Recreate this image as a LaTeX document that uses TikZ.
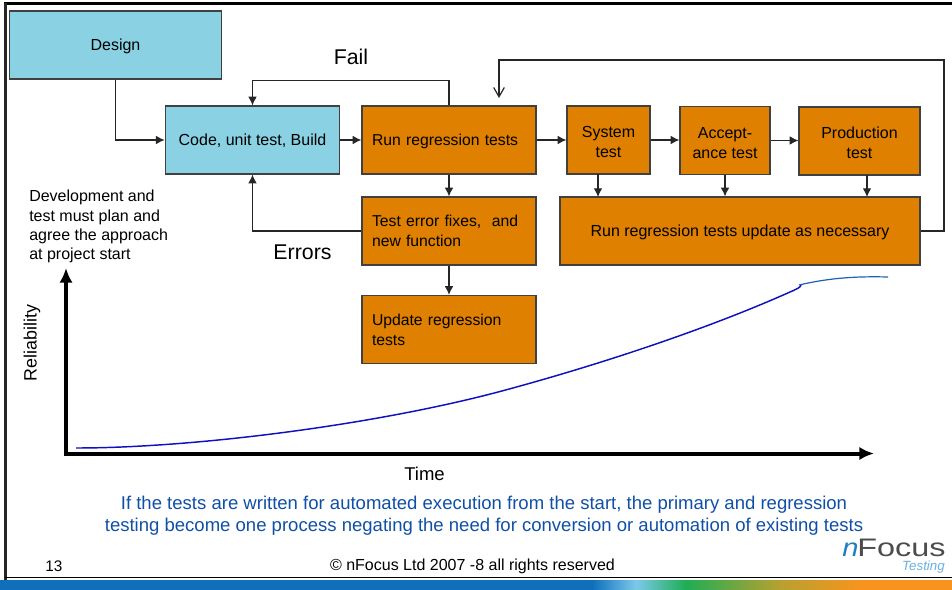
\documentclass[tikz,border=0pt]{standalone}
\usepackage{fontspec}
\setmainfont{Liberation Sans}
\usetikzlibrary{arrows.meta}
\definecolor{bluebox}{HTML}{89D1E3}
\definecolor{orangebox}{HTML}{DF8000}
\definecolor{bluetext}{HTML}{0F4FA8}
\definecolor{curveblue}{HTML}{1010C0}
\definecolor{penblue}{HTML}{2060B0}
\definecolor{barblue}{HTML}{0F6FBA}
\definecolor{barlight}{HTML}{7CC8EC}
\definecolor{bargreen}{HTML}{1FAE54}
\definecolor{barolive}{HTML}{B8A030}
\definecolor{barorange}{HTML}{F7941D}
\definecolor{logoblue}{HTML}{1F7FC0}
\definecolor{testingblue}{HTML}{6AB0E0}
\pgfdeclarehorizontalshading{barshade}{100bp}{color(0bp)=(barblue); color(56.1bp)=(barblue); color(58.4bp)=(barlight); color(61bp)=(bargreen); color(66bp)=(barolive); color(70.2bp)=(barorange); color(100bp)=(barorange)}
\tikzset{
	bluestep/.style={draw=black!75, line width=0.9pt, fill=bluebox, inner sep=0pt, align=center, minimum height=68*0.75pt, font=\fontsize{12}{15}\selectfont},
	orangestep/.style={draw=black!75, line width=0.9pt, fill=orangebox, inner sep=0pt, align=center, minimum height=68*0.75pt, font=\fontsize{12}{15}\selectfont},
	oneline/.style={text depth=0pt},
	twoline/.style={text height=26.5pt},
	leftstep/.style={orangestep, minimum width=174*0.75pt, text width=154*0.75pt, align=left, font=\fontsize{11.8}{15}\selectfont},
	flow/.style={draw=black!85, line width=0.9pt, -{Latex[length=6.5pt,width=6.5pt]}},
	axisline/.style={line width=3pt, line cap=rect, -{Latex[length=11pt,width=10pt]}},
	plain/.style={font=\fontsize{12}{14.5}\selectfont, align=left, inner sep=0pt},
	biglabel/.style={font=\fontsize{16}{18}\selectfont, inner sep=0pt},
	bluenote/.style={font=\fontsize{13.9}{16.5}\selectfont, text=bluetext, align=center, inner sep=0pt}
}
\begin{document}
\begin{tikzpicture}[x=0.75pt,y=-0.75pt]
	\useasboundingbox (0,0) rectangle (952,589);
	% page frame
	\draw[line width=2.2pt] (4,3.5) -- (952,3.5);
	\draw[line width=1.8pt, black!85] (5.5,3) -- (5.5,581);
	\draw[line width=0.9pt] (5,577.5) -- (952,577.5);
	\shade[shading=barshade] (0,580.5) rectangle (952,589);
	% boxes
	\node[bluestep, oneline, minimum width=212*0.75pt] (design) at (115.5,45) {Design};
	\node[bluestep, oneline, minimum width=174.5*0.75pt] (code) at (252.5,140) {Code, unit test, Build};
	\node[leftstep, oneline] (run) at (449,140) {Run regression tests};
	\node[orangestep, twoline, minimum width=83*0.75pt] (system) at (608.5,140) {System\\test};
	\node[orangestep, twoline, minimum width=90*0.75pt] (accept) at (725,140.5) {Accept-\\ance test};
	\node[orangestep, twoline, minimum width=121*0.75pt] (production) at (859.5,141) {Production\\test};
	\node[leftstep] (fixes) at (449,231) {Test error fixes,~ and new function};
	\node[leftstep] (update) at (449,329.5) {Update regression tests};
	\node[orangestep, oneline, minimum width=360*0.75pt] (runall) at (740,231) {Run regression tests update as necessary};
	% free ends
	\coordinate (retest) at (499,98);
	% flow
	\draw[flow] (design.south) |- (code.west);
	\draw[flow] (code) -- (run);
	\draw[flow] (run) -- (system);
	\draw[flow] (system) -- (system-|accept.west);
	\draw[flow] (accept) -- (accept-|production.west);
	\draw[flow] (run.north) -- ++(0,-25) -| (code.north);
	\draw[flow] (run) -- (fixes);
	\draw[flow] (fixes) -- (update);
	\draw[flow] (fixes.west) -| (code.south);
	\draw[flow] (598,174) -- (598,197);
	\draw[flow] (accept.south) -- (accept.south|-runall.north);
	\draw[flow] (867,175) -- (867,197);
	\draw[draw=black!85, line width=0.9pt, -{Straight Barb[length=7pt,width=8pt]}] (runall.east) -- (944,231) -- (944,60) -- (499,60) -- (retest);
	% labels
	\node[biglabel] (fail) at (351,57) {Fail};
	\node[biglabel] (errors) at (302.5,252) {Errors};
	\node[plain, anchor=north west] (plan) at (29,190) {Development and\\test must plan and\\agree the approach\\at project start};
	% chart
	\coordinate (origin) at (66,453.5);
	\draw[axisline] (origin) -- (66,268);
	\draw[axisline] (origin) -- (874,453.5);
	\node[plain, rotate=90, font=\fontsize{13.4}{14}\selectfont] (reliability) at (32,343) {Reliability};
	\node[plain, font=\fontsize{13.9}{14}\selectfont] (time) at (424.5,474) {Time};
	\draw[curveblue, line width=1.1pt] (76,448) .. controls (190,448) and (370,426) .. (500,391.5) .. controls (595,366) and (705,330) .. (790,292) .. controls (797,289) and (801,287) .. (801,285);
	\draw[penblue, line width=0.9pt] (799,285) .. controls (825,279) and (850,276) .. (888,277);
	% note
	\node[bluenote] (note) at (484,516) {If the tests are written for automated execution from the start, the primary and regression\\testing become one process negating the need for conversion or automation of existing tests};
	% footer
	\node[plain, font=\fontsize{11.5}{12}\selectfont] (page) at (54,566) {13};
	\node[plain, font=\fontsize{12}{12}\selectfont] (copy) at (472.5,566) {© nFocus Ltd 2007 -8 all rights reserved};
	% logo
	\node[inner sep=0pt, xscale=1.15, font=\itshape\fontsize{19}{19}\selectfont, text=logoblue, anchor=base west] (logon) at (842,556.5) {n};
	\node[inner sep=0pt, xscale=1.28, font=\fontsize{19}{19}\selectfont, text=black!70, anchor=base west] (logofocus) at (857,556.5) {Focus};
	\node[inner sep=0pt, font=\itshape\fontsize{10}{10}\selectfont, text=testingblue, anchor=base east] (logotesting) at (945,570.5) {Testing};
\end{tikzpicture}
\end{document}
